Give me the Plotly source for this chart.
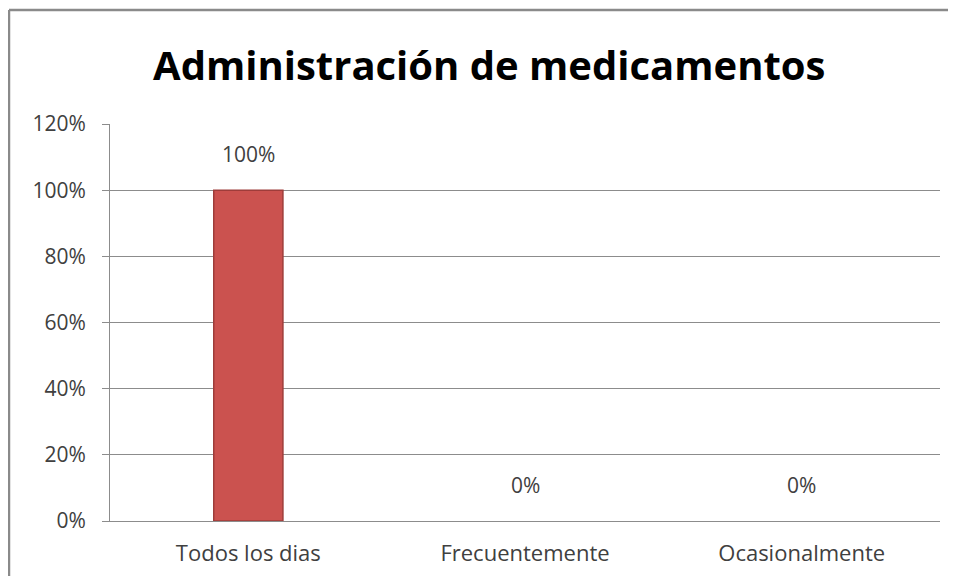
import plotly.graph_objects as go

categorias = ['Todos los dias', 'Frecuentemente', 'Ocasionalmente']
valores = [1.0, 0.0, 0.0]
etiquetas = ['100%', '0%', '0%']
ticks_y = [0, 0.2, 0.4, 0.6, 0.8, 1.0, 1.2]

fig = go.Figure()
fig.add_trace(go.Bar(
    x=categorias, y=valores,
    marker=dict(color='#CB524F',
                line=dict(color='#9E3C3A', width=[1.5 if v > 0 else 0 for v in valores])),
    width=0.25, hoverinfo='skip'))

for c, v, t in zip(categorias, valores, etiquetas):
    fig.add_annotation(x=c, y=v, text=t, showarrow=False, yshift=36,
                       font=dict(family='Open Sans', size=21, color='#404040'))

# marco exterior del grafico (solo se ven el borde izquierdo y el superior)
fig.add_shape(type='line', xref='paper', yref='paper',
              x0=-0.1217, y0=-0.4, x1=-0.1217, y1=1.287,
              line=dict(color='#8a8a8a', width=2.5), layer='below')
fig.add_shape(type='line', xref='paper', yref='paper',
              x0=-0.1217, y0=1.287, x1=1.3, y1=1.287,
              line=dict(color='#8a8a8a', width=2.5), layer='below')

fig.update_layout(
    width=940, height=568,
    margin=dict(l=102, r=8, t=116, b=55),
    paper_bgcolor='white', plot_bgcolor='white',
    showlegend=False,
    title=dict(text='<b>Administración de medicamentos</b>', x=0.512, xanchor='center',
               y=0.898, yanchor='middle',
               font=dict(family='Open Sans', size=40, color='black')),
    font=dict(family='Open Sans', size=21, color='#404040'),
)
fig.update_yaxes(range=[0, 1.2], tickvals=ticks_y, tickformat='.0%',
                 showgrid=True, gridcolor='#8c8c8c', gridwidth=1,
                 showline=True, linecolor='#8c8c8c', linewidth=1,
                 ticks='outside', ticklen=7, tickcolor='#8c8c8c',
                 ticklabelstandoff=12, zeroline=False)
fig.update_xaxes(showline=True, linecolor='#8c8c8c', linewidth=1,
                 ticks='', ticklabelstandoff=13, tickfont=dict(size=22))

fig.write_html('out.html')
